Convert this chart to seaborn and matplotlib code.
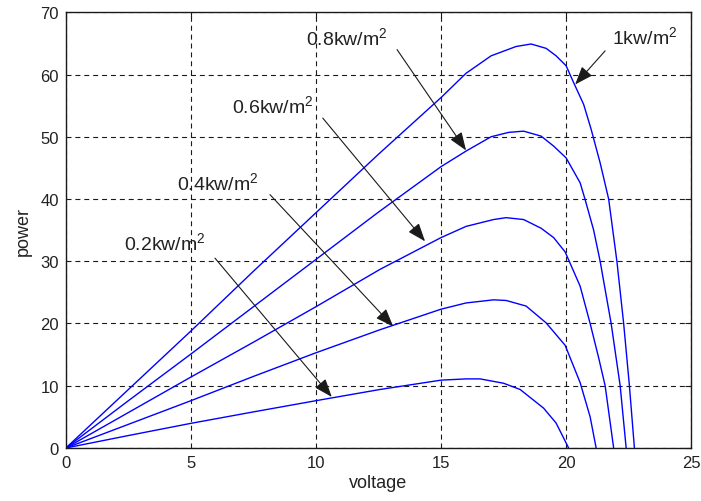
import numpy as np
import pandas as pd
import matplotlib
matplotlib.use('Agg')
import matplotlib.pyplot as plt
import seaborn as sns

# P-V curves for different irradiance levels
v_1000 = [0, 2.5, 5, 7.5, 10, 12.5, 15, 16, 17, 18, 18.6, 19.2, 19.6, 20, 20.3, 20.7, 21.0, 21.36, 21.7, 22.03, 22.3, 22.53, 22.73]
p_1000 = [0, 9.4, 18.8, 28.4, 37.8, 47.2, 56.3, 60.2, 63.0, 64.5, 64.9, 64.2, 63.0, 61.4, 58.7, 55.2, 51.2, 45.8, 40.0, 30.0, 20.0, 10.0, 0]

v_800 = [0, 2.5, 5, 7.5, 10, 12.5, 15, 16, 17, 17.7, 18.3, 19, 19.5, 20, 20.56, 20.76, 21.1, 21.36, 21.8, 22.16, 22.4]
p_800 = [0, 7.6, 15.1, 22.7, 30.3, 37.9, 45.2, 47.7, 50.0, 50.7, 50.9, 50.1, 48.5, 46.6, 42.6, 39.9, 35.0, 30.0, 20.0, 10.0, 0]

v_600 = [0, 2.5, 5, 7.5, 10, 12.56, 15, 16, 17.1, 17.6, 18.3, 19.0, 19.5, 19.96, 20.56, 20.96, 21.3, 21.56, 21.9]
p_600 = [0, 5.7, 11.4, 17.0, 22.7, 28.7, 33.8, 35.6, 36.7, 37.0, 36.7, 35.3, 33.8, 31.5, 26.0, 20.0, 14.5, 10.0, 0]

v_400 = [0, 2.5, 5, 7.5, 10, 12.56, 15, 16, 17.1, 17.6, 18.4, 19.2, 19.96, 20.56, 20.96, 21.2]
p_400 = [0, 3.8, 7.6, 11.5, 15.3, 19.0, 22.3, 23.3, 23.8, 23.7, 22.8, 20.1, 16.5, 10.5, 5.0, 0]

v_200 = [0, 2.5, 5, 7.5, 10, 12.56, 15, 16, 16.56, 17.5, 18.16, 19.1, 19.6, 20.1]
p_200 = [0, 2.0, 3.96, 5.8, 7.6, 9.4, 10.9, 11.1, 11.1, 10.4, 9.4, 6.4, 4.0, 0]

labels = ['1kw/m$^2$', '0.8kw/m$^2$', '0.6kw/m$^2$', '0.4kw/m$^2$', '0.2kw/m$^2$']

curves = [(v_1000, p_1000), (v_800, p_800), (v_600, p_600), (v_400, p_400), (v_200, p_200)]
df = pd.concat(
    [pd.DataFrame({'voltage': v, 'power': p, 'irr': lab}) for (v, p), lab in zip(curves, labels)],
    ignore_index=True,
)

sns.set_theme(style='white')
plt.rcParams['font.family'] = ['Liberation Sans', 'DejaVu Sans']
plt.rcParams['mathtext.default'] = 'regular'

fig = plt.figure(figsize=(7.01, 5.02), dpi=100)
ax = fig.add_axes([0.094, 0.1056, 0.892, 0.868])

sns.lineplot(data=df, x='voltage', y='power', hue='irr', palette=['#0000ff'] * 5,
             estimator=None, legend=False, linewidth=1.0, ax=ax)

ax.set_xlim(0, 25)
ax.set_ylim(0, 70)
ax.set_xticks(range(0, 26, 5))
ax.set_yticks(range(0, 71, 10))

ax.grid(True, color='k', linestyle=(0, (4.5, 3.5)), linewidth=0.8)
ax.set_axisbelow(True)
for s in ax.spines.values():
    s.set_color('k')
    s.set_linewidth(1.0)
    s.set_visible(True)

ax.tick_params(direction='in', length=4, width=0.8, color='k', labelsize=12,
               labelcolor='#222222', top=True, right=True, pad=5)
ax.set_xlabel('voltage', fontsize=13, color='#222222', labelpad=3)
ax.set_ylabel('power', fontsize=13, color='#222222', labelpad=6)

# annotations: text position, arrow start, arrow tip
text_pos = [(21.84, 66.1), (9.6, 66.0), (6.64, 55.0), (4.44, 42.7), (2.32, 33.0)]
arrow_start = [(21.56, 63.8), (13.24, 64.0), (10.27, 53.0), (8.16, 40.7), (5.96, 30.5)]
arrow_tip = [(20.36, 58.4), (16.0, 47.8), (14.36, 33.2), (13.09, 19.5), (10.63, 8.2)]

for lab, tp, st, tip in zip(labels, text_pos, arrow_start, arrow_tip):
    ax.text(tp[0], tp[1], lab, fontsize=14, color='#222222', ha='left', va='center')
    ax.annotate('', xy=tip, xytext=st,
                arrowprops=dict(arrowstyle='-|>,head_length=0.8,head_width=0.3',
                                color='k', lw=0.8, mutation_scale=14,
                                shrinkA=0, shrinkB=0))

fig.savefig('out.png', dpi=100)
